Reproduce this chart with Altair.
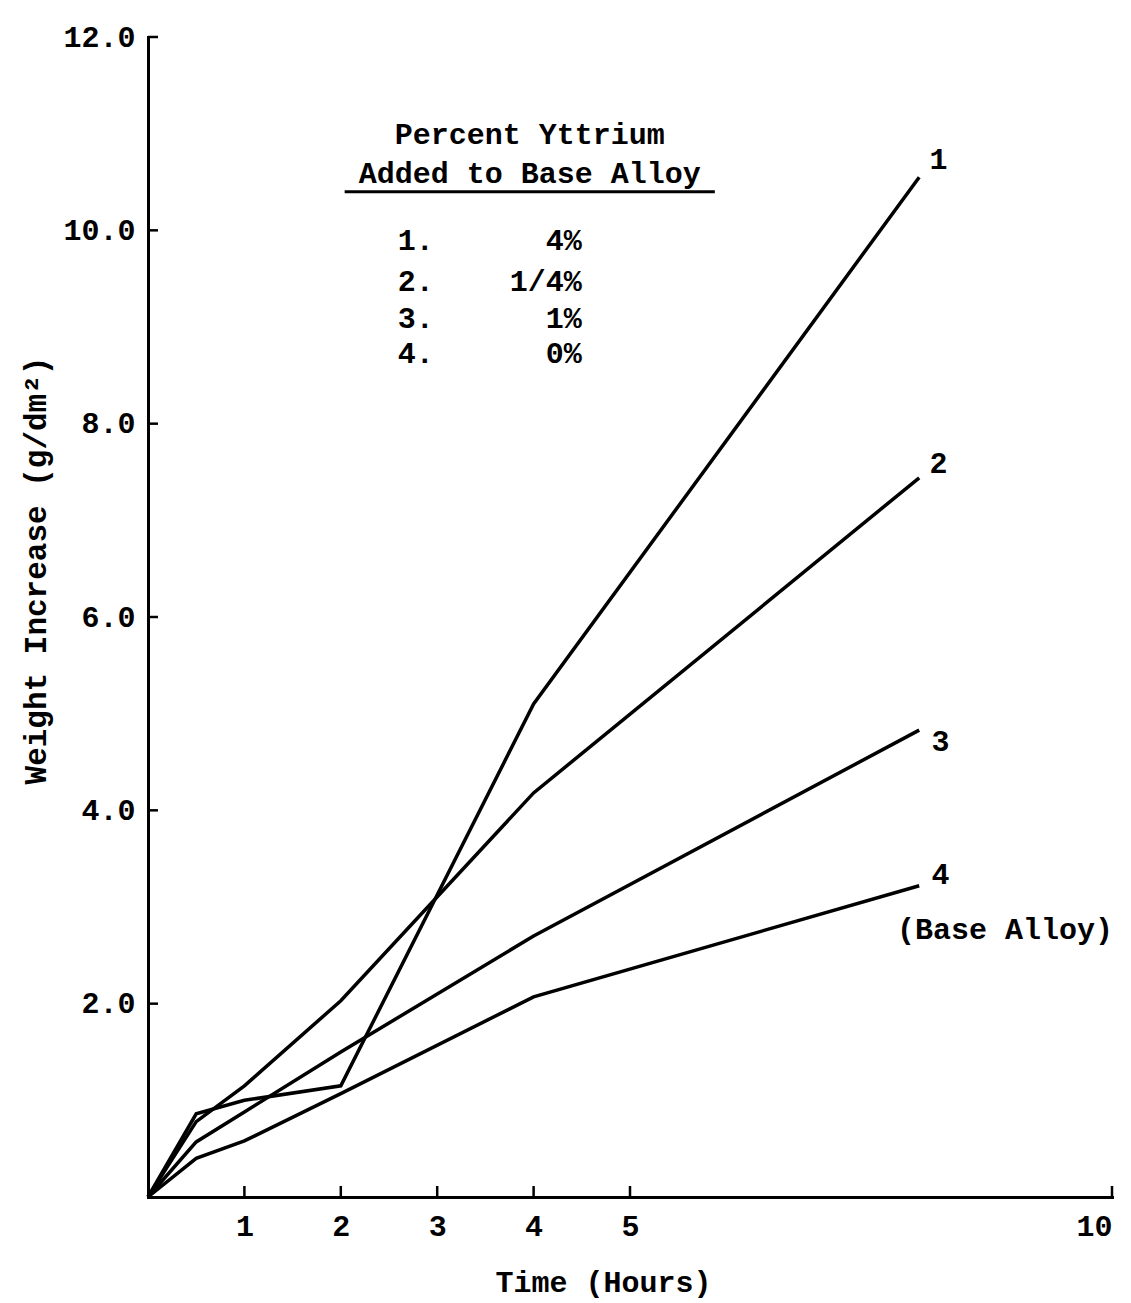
import altair as alt
import pandas as pd

# Oxidation weight gain of the base alloy with yttrium additions
hours = [0, 0.5, 1, 2, 4, 8]
series_ids = ["1", "2", "3", "4"]
yttrium_pct = ["4%", "1/4%", "1%", "0%"]
gain_1 = [0, 0.86, 1.00, 1.15, 5.10, 10.55]
gain_2 = [0, 0.78, 1.15, 2.03, 4.18, 7.44]
gain_3 = [0, 0.57, 0.88, 1.50, 2.70, 4.83]
gain_4 = [0, 0.40, 0.58, 1.07, 2.07, 3.22]

x_ticks = [1, 2, 3, 4, 5, 10]
y_ticks = [2, 4, 6, 8, 10, 12]

FONT = "Liberation Mono"
FS = 30
W, H = 964, 1160

rows = []
for sid, vals in zip(series_ids, [gain_1, gain_2, gain_3, gain_4]):
    for h, v in zip(hours, vals):
        rows.append({"series": sid, "hours": h, "gain": v})
df = pd.DataFrame(rows)

x_scale = alt.Scale(domain=[0, 10], nice=False, zero=False)
y_scale = alt.Scale(domain=[0, 12], nice=False, zero=False)

x_axis = alt.Axis(
    values=x_ticks, format="d", ticks=False, grid=False,
    domainColor="black", domainWidth=3, domainCap="square",
    labelFont=FONT, labelFontSize=FS, labelFontWeight="bold", labelColor="black",
    labelPadding=14,
    title="Time (Hours)", titleFont=FONT, titleFontSize=FS, titleFontWeight="bold",
    titleColor="black", titleX=455, titleY=85, titleBaseline="middle",
    titleAlign="center",
)
y_axis = alt.Axis(
    values=y_ticks, format=".1f", ticks=False, grid=False,
    domainColor="black", domainWidth=3, domainCap="square",
    labelFont=FONT, labelFontSize=FS, labelFontWeight="bold", labelColor="black",
    labelPadding=13,
    title="Weight Increase (g/dm²)", titleFont=FONT, titleFontSize=31,
    titleFontWeight="bold", titleColor="black", titleAngle=270,
    titleX=-112, titleY=533, titleBaseline="middle", titleAlign="center",
)

lines = alt.Chart(df).mark_line(color="black", strokeWidth=3.5, clip=False).encode(
    x=alt.X("hours:Q", scale=x_scale, axis=x_axis),
    y=alt.Y("gain:Q", scale=y_scale, axis=y_axis),
    detail="series:N",
)

# inward-pointing tick marks
xt = alt.Chart(pd.DataFrame({"t": x_ticks})).mark_rule(color="black", strokeWidth=2.5).encode(
    x=alt.X("t:Q", scale=x_scale),
    y=alt.value(H - 11),
    y2=alt.value(H),
)
yt = alt.Chart(pd.DataFrame({"t": y_ticks})).mark_rule(color="black", strokeWidth=2.5).encode(
    y=alt.Y("t:Q", scale=y_scale),
    x=alt.value(0),
    x2=alt.value(10),
)

# key block
head = pd.DataFrame({
    "txt": ["Percent Yttrium", "Added to Base Alloy"],
    "x": [3.96, 3.96],
    "y": [10.99, 10.58],
})
head_text = alt.Chart(head).mark_text(
    font=FONT, fontSize=FS, fontWeight="bold", color="black", align="center", baseline="middle"
).encode(x=alt.X("x:Q", scale=x_scale), y=alt.Y("y:Q", scale=y_scale), text="txt:N")

underline = alt.Chart(pd.DataFrame({"x": [2.04], "x2": [5.88], "y": [10.40]})).mark_rule(
    color="black", strokeWidth=3
).encode(x=alt.X("x:Q", scale=x_scale), x2="x2:Q", y=alt.Y("y:Q", scale=y_scale))

key_y = [9.89, 9.47, 9.08, 8.72]
key = pd.DataFrame({
    "num": [s + "." for s in series_ids],
    "pct": yttrium_pct,
    "y": key_y,
    "xn": [2.59] * 4,
    "xp": [4.50] * 4,
})
key_num = alt.Chart(key).mark_text(
    font=FONT, fontSize=FS, fontWeight="bold", color="black", align="left", baseline="middle"
).encode(x=alt.X("xn:Q", scale=x_scale), y=alt.Y("y:Q", scale=y_scale), text="num:N")
key_pct = alt.Chart(key).mark_text(
    font=FONT, fontSize=FS, fontWeight="bold", color="black", align="right", baseline="middle"
).encode(x=alt.X("xp:Q", scale=x_scale), y=alt.Y("y:Q", scale=y_scale), text="pct:N")

# labels at line ends
ends = pd.DataFrame({
    "txt": series_ids + ["(Base Alloy)"],
    "x": [8.2, 8.2, 8.22, 8.22, 8.89],
    "y": [10.73, 7.58, 4.71, 3.33, 2.76],
})
end_text = alt.Chart(ends).mark_text(
    font=FONT, fontSize=FS, fontWeight="bold", color="black", align="center", baseline="middle"
).encode(x=alt.X("x:Q", scale=x_scale), y=alt.Y("y:Q", scale=y_scale), text="txt:N")

chart = alt.layer(lines, xt, yt, head_text, underline, key_num, key_pct, end_text).properties(
    width=W, height=H,
    autosize=alt.AutoSizeParams(type="none"),
    padding={"left": 148, "top": 37, "right": 19, "bottom": 106},
    background="white",
).configure_view(stroke=None)

chart.save("out.html", embed_options={"renderer": "svg", "actions": False})
